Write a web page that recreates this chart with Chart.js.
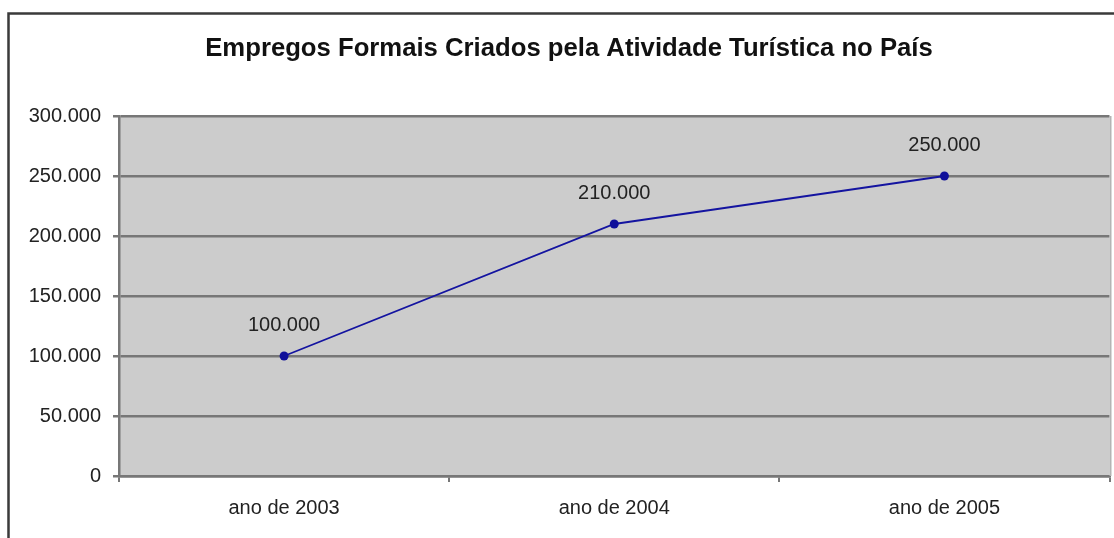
<!DOCTYPE html>
<html>
<head>
<meta charset="utf-8">
<script src="https://cdn.jsdelivr.net/npm/chart.js@4"></script>
<style>
  body { margin: 0; background: #fff; }
</style>
</head>
<body>
<canvas id="chart" width="1114" height="538"></canvas>
<script>
const titulo = 'Empregos Formais Criados pela Atividade Turística no País';
const anos = ['ano de 2003', 'ano de 2004', 'ano de 2005'];
const empregos = [100000, 210000, 250000];

const fmt = v => String(v).replace(/\B(?=(\d{3})+(?!\d))/g, '.');

// fundo cinza da área de plotagem, moldura e título
const moldura = {
    id: 'moldura',
    beforeDraw(chart) {
        const { ctx, chartArea: a } = chart;
        ctx.save();
        ctx.fillStyle = '#cccccc';
        ctx.fillRect(a.left, a.top, a.right - a.left, a.bottom - a.top);
        ctx.restore();
    },
    afterDraw(chart) {
        const { ctx, chartArea: a } = chart;
        ctx.save();
        ctx.strokeStyle = '#b4b4b4';
        ctx.lineWidth = 2;
        ctx.beginPath();
        ctx.moveTo(a.right + 1, a.top);
        ctx.lineTo(a.right + 1, a.bottom);
        ctx.stroke();

        ctx.strokeStyle = '#3a3a3a';
        ctx.lineWidth = 2.5;
        ctx.beginPath();
        ctx.moveTo(8.5, chart.height);
        ctx.lineTo(8.5, 13.5);
        ctx.lineTo(chart.width, 13.5);
        ctx.stroke();

        ctx.fillStyle = '#111';
        ctx.font = 'bold 25.7px "Liberation Sans", Arial, sans-serif';
        ctx.textAlign = 'center';
        ctx.textBaseline = 'middle';
        ctx.fillText(titulo, 569, 49);
        ctx.restore();
    }
};

const rotulos = {
    id: 'rotulos',
    afterDatasetsDraw(chart) {
        const { ctx } = chart;
        const meta = chart.getDatasetMeta(0);
        ctx.save();
        ctx.fillStyle = '#222';
        ctx.font = '20px "Liberation Sans", Arial, sans-serif';
        ctx.textAlign = 'center';
        ctx.textBaseline = 'middle';
        meta.data.forEach((p, i) => {
            ctx.fillText(fmt(empregos[i]), p.x, p.y - 31);
        });
        ctx.restore();
    }
};

new Chart(document.getElementById('chart'), {
    type: 'line',
    data: {
        labels: anos,
        datasets: [{
            data: empregos,
            borderColor: '#1414a0',
            backgroundColor: '#1414a0',
            borderWidth: 1.8,
            pointRadius: 4.5,
            pointBackgroundColor: '#10109a',
            pointBorderWidth: 0,
            tension: 0
        }]
    },
    options: {
        responsive: false,
        animation: false,
        layout: { padding: { top: 116, right: 4, left: 0, bottom: 0 } },
        plugins: {
            legend: { display: false },
            title: { display: false },
            tooltip: { enabled: false }
        },
        scales: {
            x: {
                offset: true,
                afterFit: s => { s.height = 62; },
                grid: { offset: true, drawOnChartArea: false, color: '#777', lineWidth: 2, tickLength: 6 },
                border: { color: '#777', width: 2.5 },
                ticks: {
                    color: '#222',
                    padding: 14,
                    font: { family: '"Liberation Sans", Arial, sans-serif', size: 20 }
                }
            },
            y: {
                min: 0,
                max: 300000,
                afterFit: s => { s.width = 119; },
                grid: { color: '#777', lineWidth: 2.5, tickLength: 6 },
                border: { color: '#777', width: 2.5 },
                ticks: {
                    stepSize: 50000,
                    color: '#222',
                    padding: 12,
                    font: { family: '"Liberation Sans", Arial, sans-serif', size: 20 },
                    callback: v => fmt(v)
                }
            }
        }
    },
    plugins: [moldura, rotulos]
});
</script>
</body>
</html>
